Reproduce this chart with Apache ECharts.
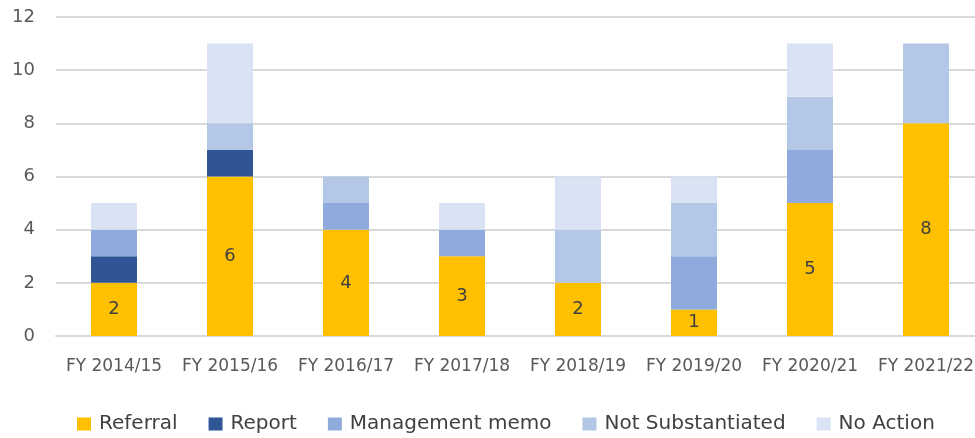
<!DOCTYPE html>
<html><head><meta charset="utf-8">
<script src="https://cdn.jsdelivr.net/npm/echarts@6/dist/echarts.min.js"></script>
<style>html,body{margin:0;padding:0;background:#fff}#c{width:975px;height:438px}</style>
</head><body><div id="c"></div>
<script>
const categories = ["FY 2014/15","FY 2015/16","FY 2016/17","FY 2017/18","FY 2018/19","FY 2019/20","FY 2020/21","FY 2021/22"];
const referral = [2,6,4,3,2,1,5,8];
const report = [1,1,0,0,0,0,0,0];
const managementMemo = [1,0,1,1,0,2,2,0];
const notSubstantiated = [0,1,1,0,2,2,2,3];
const noAction = [1,3,0,1,2,1,2,0];
const yTicks = [0,2,4,6,8,10,12];

const font = "DejaVu Sans";
function s(name, data, color, label) {
  return {
    name, type: 'bar', stack: 'total', data: data.map(v => v === 0 ? null : v),
    barWidth: 46, itemStyle: { color },
    label: label ? { show: true, position: 'inside', color: '#404040', fontSize: 18, fontFamily: font } : { show: false }
  };
}
const chart = echarts.init(document.getElementById('c'));
chart.setOption({
  animation: false,
  textStyle: { fontFamily: font },
  grid: { left: 56, width: 928, top: 17, bottom: 102, containLabel: false, outerBoundsMode: 'none' },
  legend: {
    top: 409, left: 72, itemWidth: 14, itemHeight: 13, itemGap: 31,
    icon: 'rect',
    textStyle: { fontSize: 20, color: '#404040', fontFamily: font, padding: [0, 0, 0, 3] },
    data: ['Referral','Report','Management memo','Not Substantiated','No Action']
  },
  xAxis: {
    type: 'category', data: categories,
    axisLine: { show: true, lineStyle: { color: '#D9D9D9', width: 2 } },
    axisTick: { show: false },
    axisLabel: { color: '#595959', fontSize: 17, margin: 22, fontFamily: font, interval: 0 }
  },
  yAxis: {
    type: 'value', min: yTicks[0], max: yTicks[yTicks.length-1], interval: 2,
    axisLine: { show: false }, axisTick: { show: false },
    axisLabel: { color: '#595959', fontSize: 18, margin: 21, fontFamily: font },
    splitLine: { lineStyle: { color: '#D9D9D9', width: 2 } }
  },
  series: [
    s('Referral', referral, '#FFC000', true),
    s('Report', report, '#2F5597'),
    s('Management memo', managementMemo, '#8FAADC'),
    s('Not Substantiated', notSubstantiated, '#B4C7E7'),
    s('No Action', noAction, '#DAE3F3')
  ]
});
</script></body></html>
